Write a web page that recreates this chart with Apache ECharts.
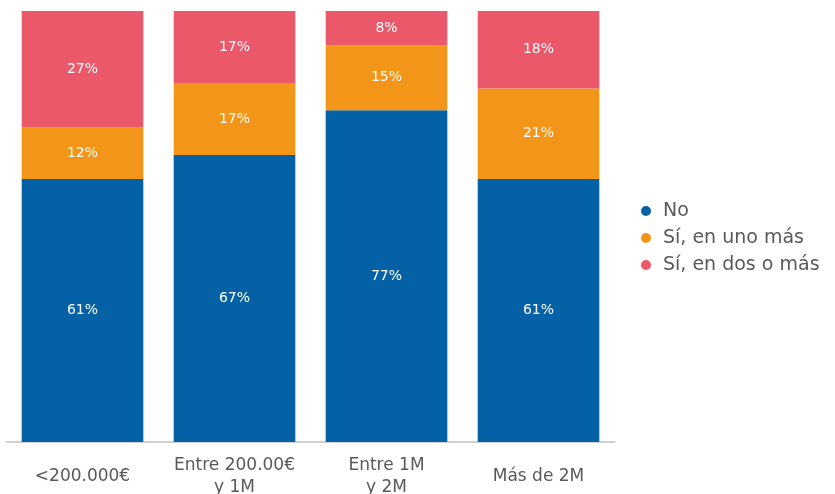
<!DOCTYPE html>
<html><head><meta charset="utf-8">
<script src="https://cdn.jsdelivr.net/npm/echarts@6/dist/echarts.min.js"></script>
<style>html,body{margin:0;padding:0;background:#fff}#c{width:835px;height:494px}</style>
</head><body><div id="c"></div>
<script>
const categories = ['<200.000€', 'Entre 200.00€\ny 1M', 'Entre 1M\ny 2M', 'Más de 2M'];
const seriesNames = ['No', 'Sí, en uno más', 'Sí, en dos o más'];
const noValues = [61, 66.6, 77, 61];
const unoValues = [12, 16.7, 15, 21];
const dosValues = [27, 16.7, 8, 18];
const colors = ['#0561a6', '#f39519', '#eb5869'];

const font = '"DejaVu Sans", sans-serif';
const chart = echarts.init(document.getElementById('c'));
const mk = (name, data, color) => ({
  name, type: 'bar', stack: 'total', data, barWidth: '80%',
  itemStyle: { color },
  label: { show: true, position: 'inside', color: '#fff', fontFamily: font, fontSize: 14,
    formatter: p => Math.round(p.value) + '%' }
});
chart.setOption({
  animation: false,
  grid: { left: 6.5, right: 220.5, top: 11, bottom: 52, containLabel: false, outerBoundsMode: 'none' },
  legend: {
    orient: 'vertical', left: 636, top: 196, itemWidth: 24, itemHeight: 10, itemGap: 7,
    icon: 'circle', data: seriesNames,
    textStyle: { fontFamily: font, fontSize: 19, color: '#595959', lineHeight: 20 }
  },
  xAxis: {
    type: 'category', data: categories,
    axisLine: { lineStyle: { color: '#d0d0d0', width: 2 } },
    axisTick: { show: false },
    axisLabel: { margin: 35, verticalAlign: 'middle', lineHeight: 22, fontFamily: font, fontSize: 17, color: '#595959', interval: 0 }
  },
  yAxis: { type: 'value', min: 0, max: 100, show: false, splitLine: { show: false } },
  series: [mk(seriesNames[0], noValues, colors[0]), mk(seriesNames[1], unoValues, colors[1]), mk(seriesNames[2], dosValues, colors[2])]
});
</script></body></html>
